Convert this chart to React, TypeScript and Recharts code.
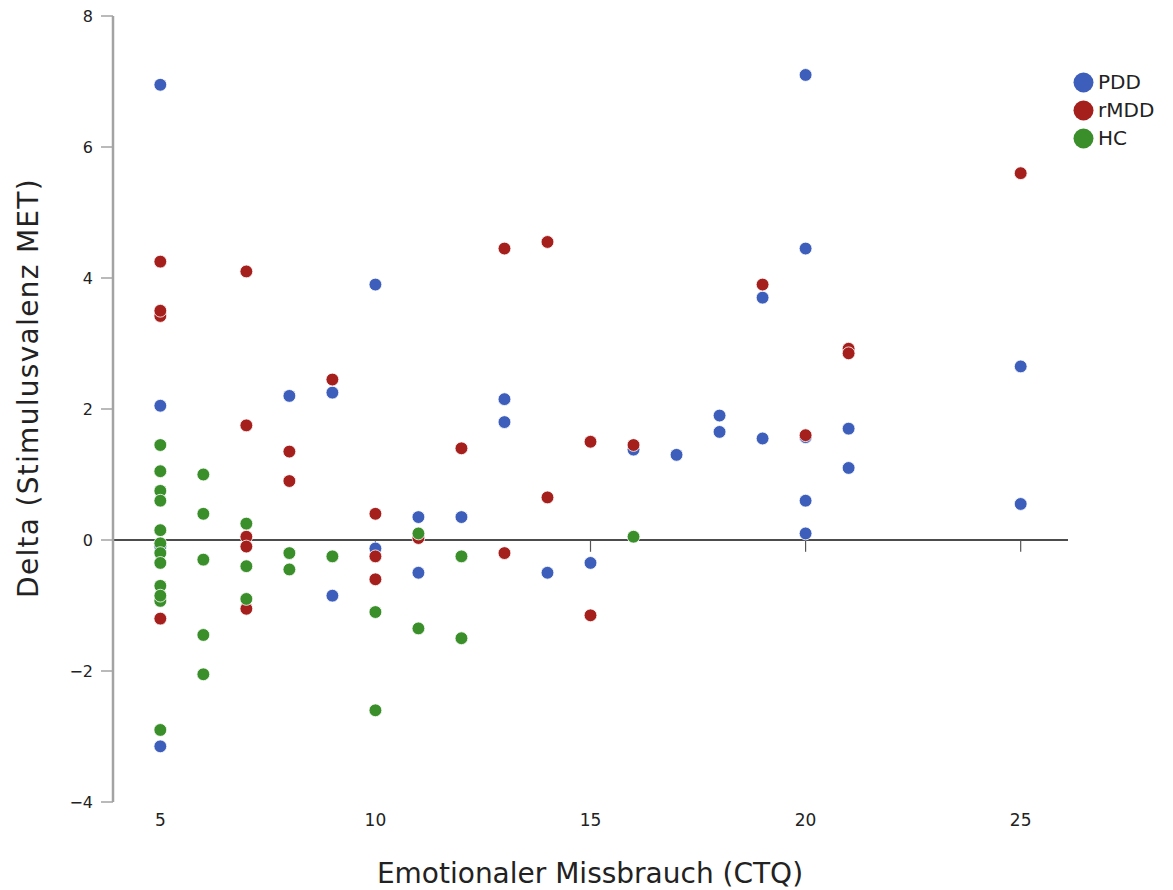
import React from 'react';
import { ScatterChart, Scatter, XAxis, YAxis, ReferenceLine } from 'recharts';

const seriesNames = ['PDD', 'rMDD', 'HC'];
const seriesColors = ['#3d5fbb', '#a51f1c', '#3a8f2b'];

const xTicks = [5, 10, 15, 20, 25];
const yTicks = [-4, -2, 0, 2, 4, 6, 8];

const pddX = [5, 5, 5, 5, 8, 9, 9, 10, 10, 11, 11, 12, 13, 13, 14, 15, 16, 17, 18, 18, 19, 19, 20, 20, 20, 20, 20, 21, 21, 25, 25];
const pddY = [6.95, 2.05, -3.15, -0.1, 2.2, 2.25, -0.85, 3.9, -0.13, 0.35, -0.5, 0.35, 2.15, 1.8, -0.5, -0.35, 1.38, 1.3, 1.9, 1.65, 3.7, 1.55, 7.1, 4.45, 1.57, 0.6, 0.1, 1.7, 1.1, 2.65, 0.55];

const rmddX = [5, 5, 5, 5, 7, 7, 7, 7, 7, 8, 8, 9, 10, 10, 10, 11, 12, 13, 13, 14, 14, 15, 15, 16, 19, 20, 21, 21, 25];
const rmddY = [4.25, 3.42, 3.5, -1.2, 4.1, 1.75, 0.05, -0.1, -1.05, 1.35, 0.9, 2.45, 0.4, -0.25, -0.6, 0.03, 1.4, 4.45, -0.2, 4.55, 0.65, 1.5, -1.15, 1.45, 3.9, 1.6, 2.92, 2.85, 5.6];

const hcX = [5, 5, 5, 5, 5, 5, 5, 5, 5, 5, 5, 5, 6, 6, 6, 6, 6, 7, 7, 7, 8, 8, 9, 10, 10, 11, 11, 12, 12, 16];
const hcY = [1.45, 1.05, 0.75, 0.6, 0.15, -0.05, -0.2, -0.35, -0.7, -0.93, -0.85, -2.9, 1.0, 0.4, -0.3, -1.45, -2.05, 0.25, -0.4, -0.9, -0.2, -0.45, -0.25, -1.1, -2.6, 0.1, -1.35, -0.25, -1.5, 0.05];

const toPoints = (xs: number[], ys: number[]) => xs.map((x, i) => ({ x, y: ys[i] }));
const seriesData = [toPoints(pddX, pddY), toPoints(rmddX, rmddY), toPoints(hcX, hcY)];

const W = 1173;
const H = 890;
const FONT = 'DejaVu Sans, Verdana, sans-serif';

const makeDot = (color: string) => (props: any) => (
  <circle cx={props.cx} cy={props.cy} r={6.4} fill={color} stroke="#ffffff" strokeOpacity={0.8} strokeWidth={1} />
);

const fmtY = (v: number) => String(v).replace('-', '\u2212');

export default function App() {
  return (
    <div style={{ position: 'absolute', left: 0, top: 0, width: W, height: H, background: '#fff' }}>
      <ScatterChart width={W} height={H} margin={{ top: 16, right: 105, bottom: 0, left: 53 }}>
        <XAxis
          type="number"
          dataKey="x"
          domain={[3.9, 26.1]}
          ticks={xTicks}
          allowDataOverflow
          axisLine={false}
          tickLine={false}
          height={88}
          tickMargin={6}
          tick={{ fontSize: 17, fill: '#222', fontFamily: FONT }}
          label={{
            content: () => (
              <text
                x={590}
                y={883}
                textAnchor="middle"
                style={{ fontSize: 28, fill: '#222', fontFamily: FONT }}
              >
                Emotionaler Missbrauch (CTQ)
              </text>
            ),
          }}
        />
        <YAxis
          type="number"
          dataKey="y"
          domain={[-4, 8]}
          ticks={yTicks}
          allowDataOverflow
          width={60}
          tickSize={12}
          tickMargin={8}
          tickFormatter={fmtY}
          axisLine={{ stroke: '#a3a3a3', strokeWidth: 2.5 }}
          tickLine={{ stroke: '#a3a3a3', strokeWidth: 1.5 }}
          tick={{ fontSize: 16, fill: '#222', fontFamily: FONT }}
          label={{
            content: () => (
              <text
                x={28}
                y={388}
                transform="rotate(-90 28 388)"
                textAnchor="middle"
                dominantBaseline="central"
                style={{ fontSize: 28, letterSpacing: 1.3, fill: '#222', fontFamily: FONT }}
              >
                Delta (Stimulusvalenz MET)
              </text>
            ),
          }}
        />
        <ReferenceLine y={0} stroke="#111" strokeWidth={1.5} />
        {xTicks.map((t) => (
          <ReferenceLine
            key={t}
            segment={[{ x: t, y: 0 }, { x: t, y: -0.18 }]}
            stroke="#555"
            strokeWidth={1.2}
          />
        ))}
        {seriesData.map((d, i) => (
          <Scatter
            key={seriesNames[i]}
            name={seriesNames[i]}
            data={d}
            fill={seriesColors[i]}
            shape={makeDot(seriesColors[i])}
            isAnimationActive={false}
          />
        ))}
      </ScatterChart>
      <div style={{ position: 'absolute', left: 1073, top: 68, fontFamily: FONT, fontSize: 20, color: '#222' }}>
        {seriesNames.map((n, i) => (
          <div key={n} style={{ display: 'flex', alignItems: 'center', height: 28 }}>
            <svg width={21} height={21} style={{ marginRight: 4 }}>
              <circle cx={10.5} cy={10.5} r={10} fill={seriesColors[i]} />
            </svg>
            <span>{n}</span>
          </div>
        ))}
      </div>
    </div>
  );
}
